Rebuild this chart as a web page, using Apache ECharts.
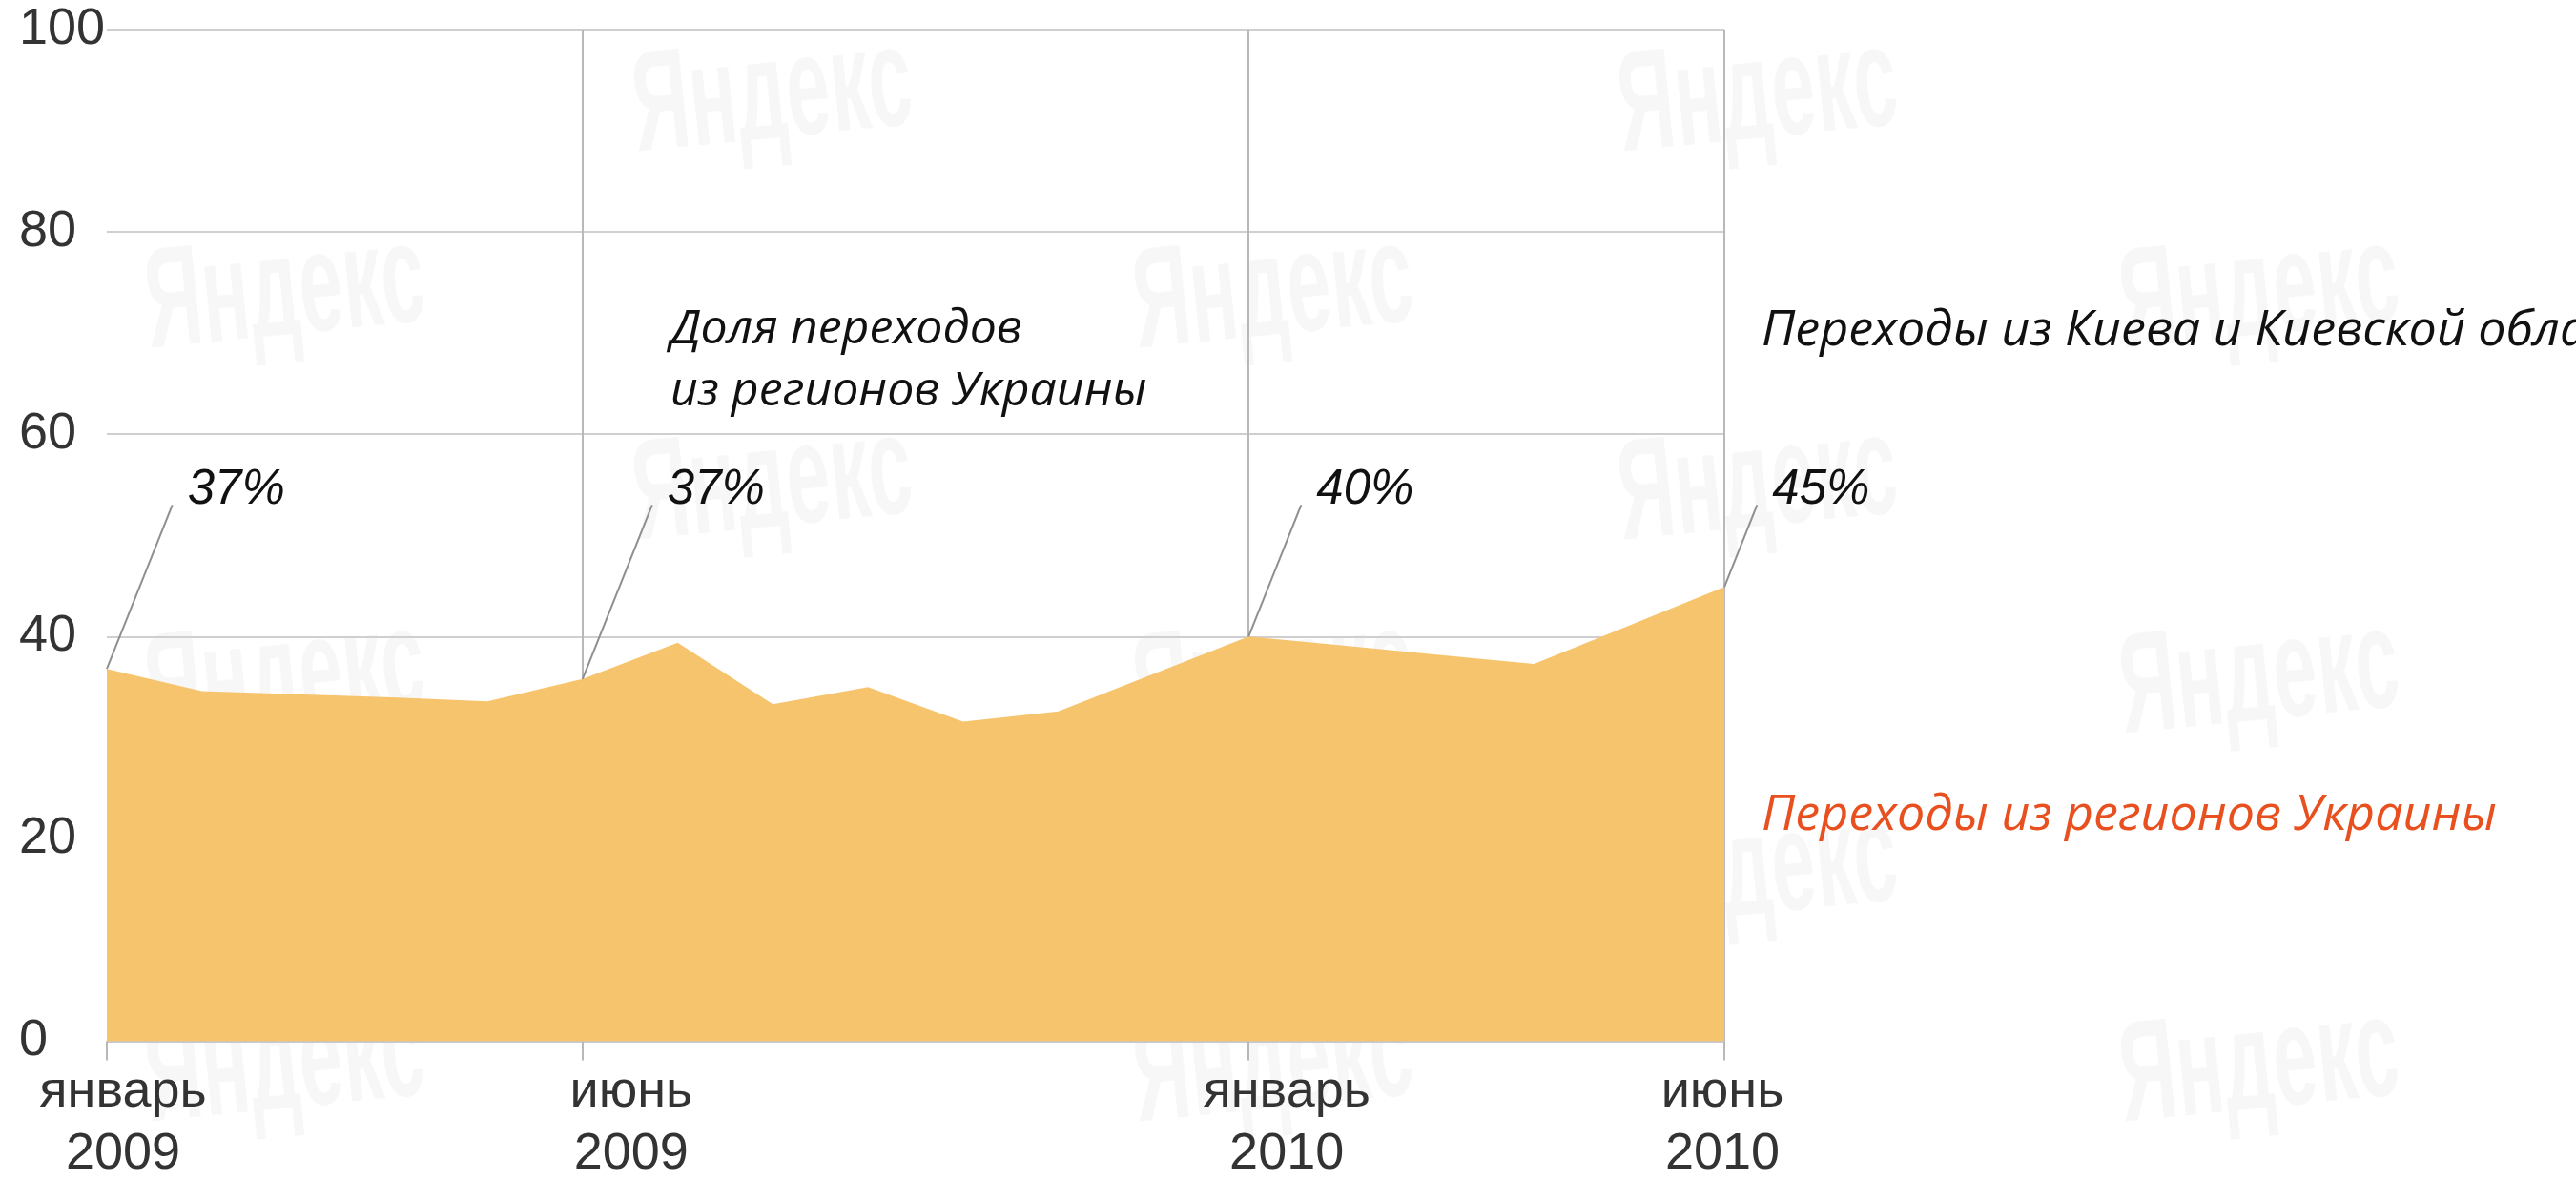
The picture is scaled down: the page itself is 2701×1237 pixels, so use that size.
<!DOCTYPE html>
<html>
<head>
<meta charset="utf-8">
<script src="https://cdn.jsdelivr.net/npm/echarts@6/dist/echarts.min.js"></script>
<style>
html, body { margin: 0; padding: 0; background: #fff; }
#chart { width: 2701px; height: 1237px; }
</style>
</head>
<body>
<div id="chart"></div>
<script>
// помесячно, январь 2009 - июнь 2010
const months = ['январь 2009', 'февраль 2009', 'март 2009', 'апрель 2009', 'май 2009', 'июнь 2009',
  'июль 2009', 'август 2009', 'сентябрь 2009', 'октябрь 2009', 'ноябрь 2009', 'декабрь 2009',
  'январь 2010', 'февраль 2010', 'март 2010', 'апрель 2010', 'май 2010', 'июнь 2010']
// доля переходов из регионов Украины, %
const regionShare = [36.8, 34.6, 34.3, 34.0, 33.6, 35.8, 39.4, 33.3, 35.0, 31.6, 32.6, 36.3,
  40.0, 39.1, 38.2, 37.3, 41.1, 44.9]

const tickMonths = [0, 5, 12, 17]
const tickNames = ['январь', 'июнь', 'январь', 'июнь']
const tickYears = ['2009', '2009', '2010', '2010']

const noteMonths = [0, 5, 12, 17]
const noteText = ['37%', '37%', '40%', '45%']

const NOTE_LEVEL = 53 // высота подписей с процентами, в единицах оси
const AXIS_FONT = '"Liberation Sans Narrow", "Liberation Sans", sans-serif'
const NOTE_FONT = '"Open Sans", "Noto Sans", sans-serif'

function tickStyle(padding) {
  return { fontSize: 54, fontFamily: AXIS_FONT, color: '#333', lineHeight: 65, padding: padding }
}

// водяные знаки
const marks = []
const markRows = [103, 309, 510, 713, 916, 1120]
markRows.forEach((y, r) => {
  const xs = r % 2 === 0 ? [810, 1843] : [299, 1335, 2369]
  xs.forEach(x => {
    marks.push({
      type: 'text', x: x, y: y, z: -1, silent: true,
      rotation: 0.1, scaleX: 0.55,
      style: { text: 'Яндекс', font: 'bold 150px "Liberation Sans", sans-serif', fill: 'rgba(0,0,0,0.03)', align: 'center', verticalAlign: 'middle' }
    })
  })
})

const option = {
  backgroundColor: '#fff',
  animation: false,
  grid: { left: 112, right: 893, top: 31, bottom: 144 },
  xAxis: {
    type: 'category',
    data: months,
    boundaryGap: false,
    axisLine: { lineStyle: { color: '#c8c8c8', width: 2 } },
    axisTick: {
      show: true,
      length: 20,
      interval: (i) => tickMonths.includes(i),
      lineStyle: { color: '#b8b8b8', width: 2 }
    },
    axisLabel: {
      interval: (i) => tickMonths.includes(i),
      margin: 21,
      formatter: (v, i) => {
        const k = tickMonths.indexOf(i)
        return '{l' + k + '|' + tickNames[k] + '}\n{l' + k + '|' + tickYears[k] + '}'
      },
      rich: {
        l0: tickStyle([0, 0, 0, 34]),
        l1: tickStyle([0, 0, 0, 102]),
        l2: tickStyle([0, 0, 0, 80]),
        l3: tickStyle([0, 4, 0, 0])
      }
    },
    splitLine: {
      show: true,
      interval: (i) => i === 5 || i === 12 || i === 17,
      lineStyle: { color: '#b8b8b8', width: 2 }
    }
  },
  yAxis: {
    type: 'value',
    min: 0,
    max: 100,
    interval: 20,
    axisLine: { show: false },
    axisTick: { show: false },
    axisLabel: { align: 'left', margin: 92, fontSize: 54, fontFamily: AXIS_FONT, color: '#333' },
    splitLine: { lineStyle: { color: '#cfcfcf', width: 2 } }
  },
  series: [{
    name: 'Переходы из регионов Украины',
    type: 'line',
    data: regionShare,
    symbol: 'none',
    silent: true,
    lineStyle: { width: 0, opacity: 0 },
    areaStyle: { color: '#f6c46d', opacity: 1 },
    z: 2
  }, {
    type: 'custom',
    coordinateSystem: 'cartesian2d',
    clip: false,
    silent: true,
    z: 5,
    data: noteMonths.map(m => [m, regionShare[m]]),
    renderItem(params, api) {
      const p = api.coord([api.value(0), api.value(1)])
      const top = api.coord([api.value(0), NOTE_LEVEL])[1]
      const x2 = p[0] + (p[1] - top) * 0.4
      return {
        type: 'group',
        children: [{
          type: 'line',
          shape: { x1: p[0], y1: p[1], x2: x2, y2: top },
          style: { stroke: '#8f8f8f', lineWidth: 2 }
        }, {
          type: 'text',
          style: {
            text: noteText[params.dataIndex],
            x: x2 + 16, y: top - 16,
            align: 'left', verticalAlign: 'middle',
            font: 'italic 51px "Liberation Sans", sans-serif',
            fill: '#111'
          }
        }]
      }
    }
  }],
  graphic: marks.concat([{
    type: 'text', x: 703, y: 313, silent: true,
    style: { text: 'Доля переходов\nиз регионов Украины', font: 'italic 50px ' + NOTE_FONT, fill: '#111', lineHeight: 65, align: 'left', verticalAlign: 'top' }
  }, {
    type: 'text', x: 1847, y: 347, silent: true,
    style: { text: 'Переходы из Киева и Киевской области', font: 'italic 52px ' + NOTE_FONT, fill: '#111', align: 'left', verticalAlign: 'middle' }
  }, {
    type: 'text', x: 1847, y: 855, silent: true,
    style: { text: 'Переходы из регионов Украины', font: 'italic 52px ' + NOTE_FONT, fill: '#e8501f', align: 'left', verticalAlign: 'middle' }
  }])
}

const myChart = echarts.init(document.getElementById('chart'))
myChart.setOption(option)
</script>
</body>
</html>
